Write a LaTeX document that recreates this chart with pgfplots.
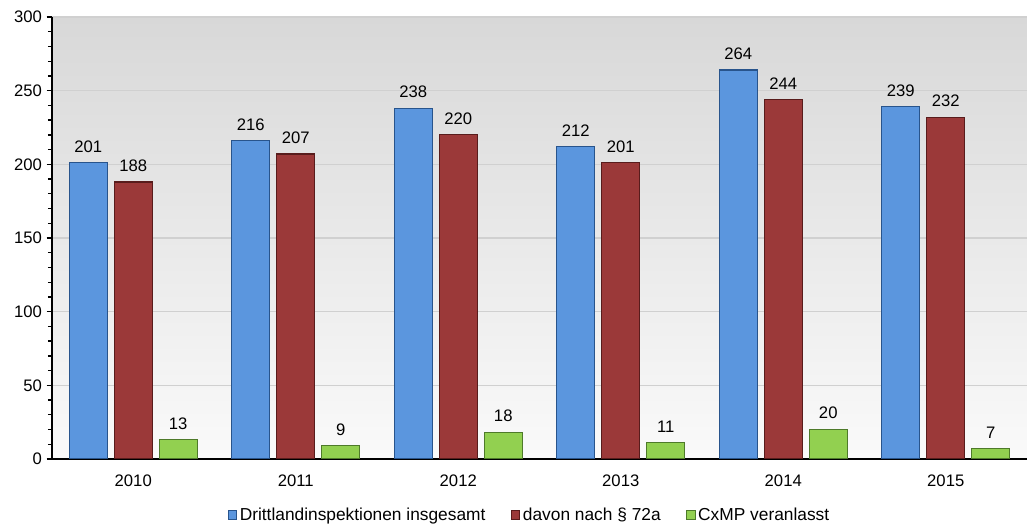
\documentclass[border=0pt]{standalone}
\usepackage{fontspec}
\setmainfont{Liberation Sans}
\usepackage{pgfplots}
\pgfplotsset{compat=1.18}

\definecolor{bluebar}{RGB}{91,150,222}
\definecolor{blueedge}{RGB}{40,84,140}
\definecolor{redbar}{RGB}{155,57,57}
\definecolor{rededge}{RGB}{88,28,28}
\definecolor{greenbar}{RGB}{146,208,80}
\definecolor{greenedge}{RGB}{78,122,42}
\definecolor{bgtop}{RGB}{216,216,216}
\definecolor{bgbottom}{RGB}{250,250,250}
\definecolor{gridgray}{RGB}{208,208,208}

\begin{document}
\begin{tikzpicture}
\begin{axis}[
  name=ax,
  scale only axis,
  width=731.25pt, height=331.5pt,
  ybar=5.25pt,
  bar width=28.5pt,
  xmin=-0.5, xmax=5.5,
  ymin=0, ymax=300,
  xtick={0,1,2,3,4,5},
  xticklabels={2010,2011,2012,2013,2014,2015},
  ytick={0,50,100,150,200,250,300},
  minor y tick num=4,
  axis x line*=bottom,
  axis y line*=left,
  x axis line style={line width=1.5pt},
  y axis line style={line width=1.2pt},
  tick align=outside,
  x tick style={draw=none},
  y tick style={black, line width=1pt},
  major tick length=4pt,
  minor tick length=3pt,
  xticklabel style={yshift=-4pt},
  ymajorgrids,
  major grid style={gridgray, line width=1pt},
  axis background/.style={top color=bgtop, bottom color=bgbottom},
  tick label style={font=\fontsize{12.5}{14}\selectfont},
  /pgf/number format/assume math mode=true,
  legend columns=3,
  legend style={at={(0.49,-0.127)}, anchor=center, draw=none, fill=none,
    font=\fontsize{13}{15}\selectfont,
    /tikz/every even column/.append style={column sep=17pt}},
  legend image code/.code={\draw[#1, line width=0.6pt] (0pt,-3pt) rectangle (6.5pt,3.5pt);},
  nodes near coords,
  every node near coord/.append style={font=\fontsize{12.5}{14}\selectfont, black, yshift=4pt},
]
\addplot[fill=bluebar, draw=blueedge, line width=0.9pt]
  coordinates {(0,201) (1,216) (2,238) (3,212) (4,264) (5,239)};
\addlegendentry{Drittlandinspektionen insgesamt}
\addplot[fill=redbar, draw=rededge, line width=0.9pt]
  coordinates {(0,188) (1,207) (2,220) (3,201) (4,244) (5,232)};
\addlegendentry{davon nach § 72a}
\addplot[fill=greenbar, draw=greenedge, line width=0.9pt]
  coordinates {(0,13) (1,9) (2,18) (3,11) (4,20) (5,7)};
\addlegendentry{CxMP veranlasst}
\end{axis}
\pgfresetboundingbox
\path[use as bounding box] ([xshift=-39pt,yshift=-50.25pt]ax.south west) rectangle ([yshift=12.75pt]ax.north east);
\end{tikzpicture}
\end{document}
